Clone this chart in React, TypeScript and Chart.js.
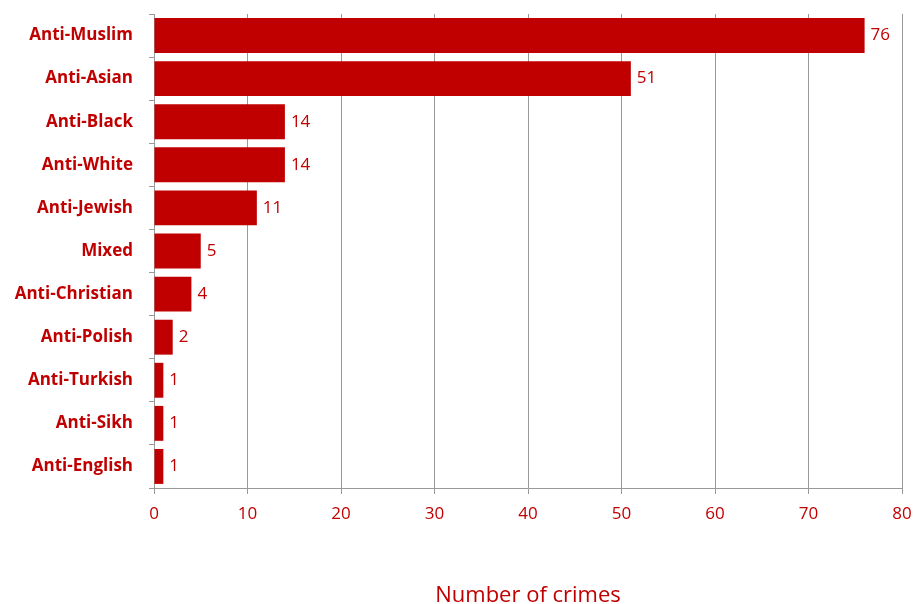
import React, { useEffect, useRef } from "react";
import { Chart, registerables } from "chart.js";

Chart.register(...registerables);

const categories = [
  "Anti-Muslim",
  "Anti-Asian",
  "Anti-Black",
  "Anti-White",
  "Anti-Jewish",
  "Mixed",
  "Anti-Christian",
  "Anti-Polish",
  "Anti-Turkish",
  "Anti-Sikh",
  "Anti-English",
];
const crimes = [76, 51, 14, 14, 11, 5, 4, 2, 1, 1, 1];
const xTicks = [0, 10, 20, 30, 40, 50, 60, 70, 80];

const RED = "#C00000";
const FONT = "'Open Sans', 'Noto Sans', sans-serif";

const valueLabels = {
  id: "valueLabels",
  afterDatasetsDraw(chart: any) {
    const ctx = chart.ctx;
    const meta = chart.getDatasetMeta(0);
    ctx.save();
    ctx.fillStyle = RED;
    ctx.font = `17px ${FONT}`;
    ctx.textAlign = "left";
    ctx.textBaseline = "middle";
    meta.data.forEach((bar: any, i: number) => {
      ctx.fillText(String(crimes[i]), bar.x + 6, bar.y);
    });
    ctx.restore();
  },
};

export default function App() {
  const ref = useRef<HTMLCanvasElement | null>(null);
  useEffect(() => {
    if (!ref.current) return;
    const chart = new Chart(ref.current, {
      type: "bar",
      data: {
        labels: categories,
        datasets: [
          {
            data: crimes,
            backgroundColor: RED,
            borderWidth: 0,
            barPercentage: 0.81,
            categoryPercentage: 1,
          },
        ],
      },
      options: {
        indexAxis: "y",
        animation: false,
        responsive: true,
        maintainAspectRatio: false,
        layout: { padding: { top: 14, right: 11, left: 0, bottom: 0 } },
        plugins: {
          legend: { display: false },
          tooltip: { enabled: false },
        },
        scales: {
          x: {
            min: 0,
            max: 80,
            afterBuildTicks: (s: any) => {
              s.ticks = xTicks.map((v) => ({ value: v }));
            },
            afterFit: (s: any) => {
              s.height = 116;
              s.paddingLeft = 0;
              s.paddingRight = 0;
            },
            grid: {
              color: "#999999",
              lineWidth: 1,
              tickLength: 6,
            },
            border: { color: "#999999" },
            ticks: {
              color: RED,
              font: { family: FONT, size: 17 },
              padding: 10,
            },
            title: {
              display: true,
              text: "Number of crimes",
              color: RED,
              font: { family: FONT, size: 22, lineHeight: 0.75 },
              padding: { top: 0, bottom: 0 },
            },
          },
          y: {
            afterFit: (s: any) => {
              s.width = 154;
              s.paddingTop = 0;
              s.paddingBottom = 0;
            },
            grid: {
              drawOnChartArea: false,
              color: "#999999",
              tickLength: 5,
            },
            border: { color: "#999999" },
            ticks: {
              color: RED,
              font: { family: FONT, size: 17, weight: "bold" },
              padding: 16,
            },
          },
        },
      },
      plugins: [valueLabels],
    });
    return () => chart.destroy();
  }, []);
  return (
    <div style={{ position: "absolute", left: 0, top: 0, width: 913, height: 604, background: "#fff" }}>
      <canvas ref={ref} />
    </div>
  );
}
